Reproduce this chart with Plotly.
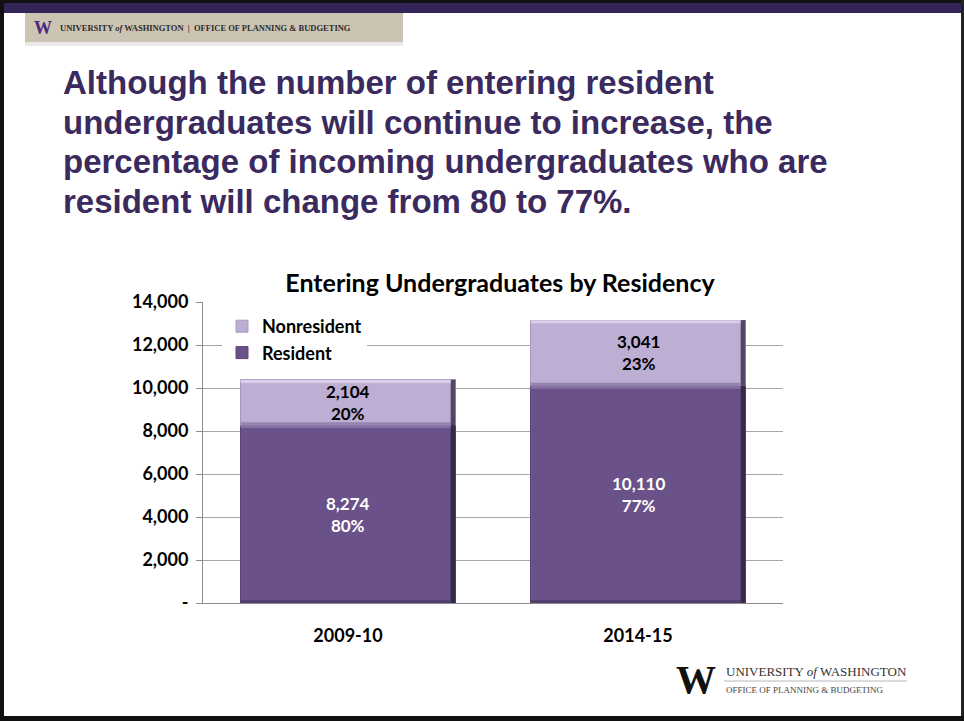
import plotly.graph_objects as go

# Entering undergraduates by residency
years = ["2009-10", "2014-15"]
resident = [8274, 10110]
nonresident = [2104, 3041]
resident_pct = ["80%", "77%"]
nonresident_pct = ["20%", "23%"]

y_ticks = [0, 2000, 4000, 6000, 8000, 10000, 12000, 14000]
y_tick_labels = ["-", "2,000", "4,000", "6,000", "8,000", "10,000", "12,000", "14,000"]

W, H = 964, 721
PL, PR, PT, PB = 203, 783, 302, 603  # plot area in pixels

RES_COLOR = "#6a5189"
NONRES_COLOR = "#bdaed3"
CHART_FONT = "Lato"
BAR_W = 0.74


def px(x):
    return (x - PL) / (PR - PL)


def py(y):
    return (PB - y) / (PB - PT)


fig = go.Figure()
fig.add_trace(go.Bar(
    name="Resident", x=[0, 1], y=resident, width=BAR_W,
    marker=dict(color=RES_COLOR, line=dict(color="#5a4476", width=1)),
    hoverinfo="skip",
))
fig.add_trace(go.Bar(
    name="Nonresident", x=[0, 1], y=nonresident, width=BAR_W,
    marker=dict(color=NONRES_COLOR, line=dict(color="#a898bf", width=1)),
    hoverinfo="skip",
))

shapes = []
annotations = []

# Bevel edges and value labels on each segment
for i in range(len(years)):
    segs = [
        (0, resident[i], "#2e2240", "#8a74a8", "#4a3766", "white", resident_pct[i]),
        (resident[i], resident[i] + nonresident[i], "#3f3352", "#ddd3ec", "#8c7ca6", "black", nonresident_pct[i]),
    ]
    for base, top, dark, light, lower, tcolor, pct in segs:
        x0, x1 = i - BAR_W / 2, i + BAR_W / 2
        edge = 0.016
        # right dark edge
        shapes.append(dict(type="rect", xref="x", yref="y", x0=x1 - edge, x1=x1,
                           y0=base, y1=top, fillcolor=dark, line=dict(width=0), opacity=0.85))
        # top light edge
        shapes.append(dict(type="rect", xref="x", yref="y", x0=x0, x1=x1 - edge,
                           y0=top - 140, y1=top, fillcolor=light, line=dict(width=0), opacity=0.9))
        # bottom shadow edge
        shapes.append(dict(type="rect", xref="x", yref="y", x0=x0, x1=x1 - edge,
                           y0=base, y1=base + 130, fillcolor=lower, line=dict(width=0), opacity=0.8))
        val = top - base
        annotations.append(dict(
            x=i, y=base + val / 2, xref="x", yref="y",
            text=f"{val:,}<br>{pct}", showarrow=False,
            font=dict(family=CHART_FONT, size=17, color=tcolor, weight="bold"),
            align="center",
        ))

# Slide frame and header band
shapes += [
    dict(type="rect", xref="paper", yref="paper", x0=px(0), x1=px(W), y0=py(0), y1=py(13),
         fillcolor="#33245a", line=dict(width=0), layer="above"),
    dict(type="rect", xref="paper", yref="paper", x0=px(0), x1=px(W), y0=py(0), y1=py(3),
         fillcolor="#111111", line=dict(width=0), layer="above"),
    dict(type="rect", xref="paper", yref="paper", x0=px(0), x1=px(4), y0=py(0), y1=py(H),
         fillcolor="#111111", line=dict(width=0), layer="above"),
    dict(type="rect", xref="paper", yref="paper", x0=px(W - 3), x1=px(W), y0=py(0), y1=py(H),
         fillcolor="#222222", line=dict(width=0), layer="above"),
    dict(type="rect", xref="paper", yref="paper", x0=px(0), x1=px(W), y0=py(716), y1=py(H),
         fillcolor="#111111", line=dict(width=0), layer="above"),
    dict(type="rect", xref="paper", yref="paper", x0=px(25), x1=px(403), y0=py(13), y1=py(42),
         fillcolor="#ccc4b3", line=dict(width=0), layer="above"),
    dict(type="rect", xref="paper", yref="paper", x0=px(25), x1=px(403), y0=py(42), y1=py(46),
         fillcolor="#ebeae8", line=dict(width=0), layer="above"),
    # rule inside the footer logo
    dict(type="line", xref="paper", yref="paper", x0=px(724), x1=px(907), y0=py(681), y1=py(681),
         line=dict(color="#b8b8b8", width=1), layer="above"),
]

# Header band text
annotations += [
    dict(x=px(32), y=py(28), xref="paper", yref="paper", xanchor="left", yanchor="middle",
         text="<b>W</b>", showarrow=False,
         font=dict(family="Liberation Serif", size=18, color="#4b2a7b")),
    dict(x=px(58), y=py(28), xref="paper", yref="paper", xanchor="left", yanchor="middle",
         text="<b>UNIVERSITY <i>of</i> WASHINGTON  |  OFFICE OF PLANNING & BUDGETING</b>",
         showarrow=False,
         font=dict(family="Liberation Serif", size=8.5, color="#2c2c2c")),
]

# Slide headline
headline = [
    "Although the number of entering resident",
    "undergraduates will continue to increase, the",
    "percentage of incoming undergraduates who are",
    "resident will change from 80 to 77%.",
]
for k, line in enumerate(headline):
    annotations.append(dict(
        x=px(61), y=py(94 + 39.5 * k), xref="paper", yref="paper",
        xanchor="left", yanchor="bottom", yshift=-9, text=f"<b>{line}</b>", showarrow=False,
        font=dict(family="Liberation Sans", size=33, color="#3b2a5e"),
    ))

# Footer logo
annotations += [
    dict(x=px(674), y=py(679), xref="paper", yref="paper", xanchor="left", yanchor="middle",
         text="<b>W</b>", showarrow=False,
         font=dict(family="Liberation Serif", size=40, color="#111111")),
    dict(x=px(724), y=py(671), xref="paper", yref="paper", xanchor="left", yanchor="middle",
         text="UNIVERSITY <i>of</i> WASHINGTON", showarrow=False,
         font=dict(family="Liberation Serif", size=13, color="#333333")),
    dict(x=px(724), y=py(690), xref="paper", yref="paper", xanchor="left", yanchor="middle",
         text="OFFICE OF PLANNING & BUDGETING", showarrow=False,
         font=dict(family="Liberation Serif", size=9, color="#444444")),
]

fig.update_layout(
    width=W, height=H,
    margin=dict(l=PL, r=W - PR, t=PT, b=H - PB),
    paper_bgcolor="white", plot_bgcolor="white",
    barmode="stack",
    showlegend=True,
    title=dict(text="<b>Entering Undergraduates by Residency</b>",
               x=px(500), xref="paper", xanchor="center",
               y=1 - 283 / H, yref="container", yanchor="middle",
               font=dict(family=CHART_FONT, size=25, color="black")),
    legend=dict(x=px(222), y=py(308), xanchor="left", yanchor="top",
                traceorder="reversed", bgcolor="white",
                font=dict(family=CHART_FONT, size=18, color="black", weight="bold"),
                itemwidth=30, tracegroupgap=0, itemclick=False),
    xaxis=dict(range=[-0.5, 1.5], tickvals=[0, 1], ticktext=[f"<b>{y}</b>" for y in years],
               showgrid=False, showline=True, linecolor="#8c8c8c", linewidth=1,
               ticks="", tickfont=dict(family=CHART_FONT, size=18, color="black"),
               ticklabelstandoff=16, zeroline=False),
    yaxis=dict(range=[0, 14000], tickvals=y_ticks, ticktext=[f"<b>{t}</b>" for t in y_tick_labels],
               showgrid=True, gridcolor="#a6a6a6", gridwidth=1,
               showline=True, linecolor="#8c8c8c", linewidth=1,
               ticks="outside", ticklen=6, tickcolor="#8c8c8c",
               tickfont=dict(family=CHART_FONT, size=18, color="black"),
               ticklabelstandoff=4, zeroline=False),
    shapes=shapes,
    annotations=annotations,
)

fig.write_html("out.html")
